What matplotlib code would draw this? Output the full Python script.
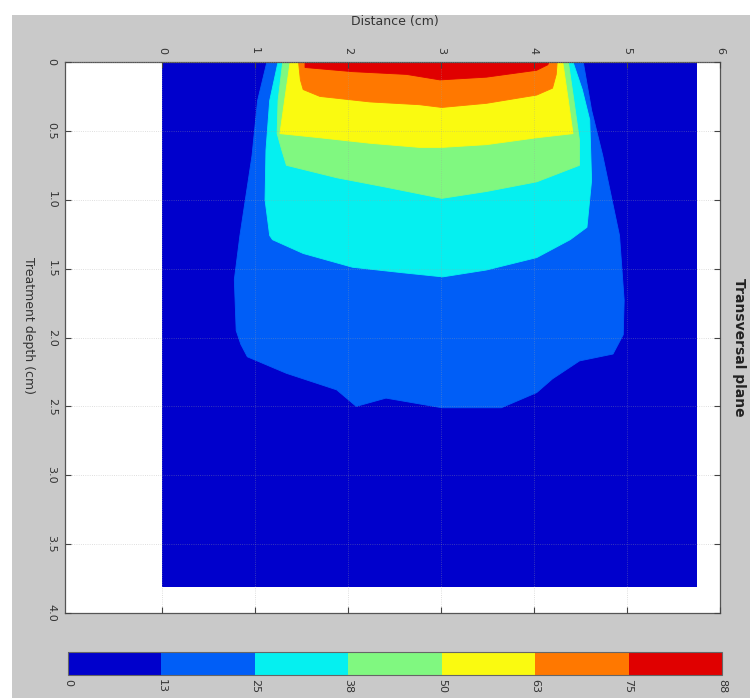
import numpy as np
import matplotlib
matplotlib.use("Agg")
import matplotlib.pyplot as plt
from matplotlib.colors import ListedColormap, BoundaryNorm
from matplotlib.cm import ScalarMappable
from matplotlib.patches import Rectangle

# dose levels (%) and their colours
levels = [0, 12.5, 25, 37.5, 50, 62.5, 75, 87.5]
level_labels = ['0', '13', '25', '38', '50', '63', '75', '88']
colors = ['#0000cc', '#005ef7', '#05f0f0', '#80f880', '#fafa10', '#ff7800', '#e00000']

# extent of the computed dose grid (cm)
grid_x = [0, 5.75]
grid_depth = [0, 3.81]

# isodose contours: distance (cm), depth (cm)
iso13_x = [1.13, 1.03, 0.97, 0.84, 0.78, 0.80, 0.85, 0.92, 1.34, 1.88, 2.09, 2.41, 3.01,
           3.65, 4.03, 4.20, 4.49, 4.85, 4.96, 4.97, 4.92, 4.74, 4.62, 4.53]
iso13_d = [0.00, 0.28, 0.68, 1.26, 1.58, 1.95, 2.05, 2.14, 2.26, 2.38, 2.50, 2.44, 2.51,
           2.51, 2.40, 2.30, 2.17, 2.12, 1.98, 1.73, 1.26, 0.68, 0.35, 0.00]
iso25_x = [1.25, 1.16, 1.12, 1.11, 1.16, 1.19, 1.52, 2.05, 2.59, 3.02, 3.49, 4.03, 4.39,
           4.57, 4.62, 4.60, 4.52, 4.42]
iso25_d = [0.00, 0.28, 0.64, 1.00, 1.26, 1.29, 1.39, 1.49, 1.53, 1.56, 1.51, 1.42, 1.29,
           1.20, 0.86, 0.42, 0.20, 0.00]
iso38_x = [1.30, 1.25, 1.24, 1.29, 1.34, 1.88, 2.42, 3.01, 3.49, 4.03, 4.49, 4.49, 4.43, 4.37]
iso38_d = [0.00, 0.28, 0.52, 0.64, 0.75, 0.84, 0.91, 0.99, 0.94, 0.87, 0.75, 0.57, 0.28, 0.00]
iso50_x = [1.38, 1.32, 1.27, 1.70, 2.24, 2.77, 3.01, 3.49, 4.03, 4.42, 4.37, 4.31]
iso50_d = [0.00, 0.28, 0.52, 0.55, 0.59, 0.62, 0.62, 0.60, 0.55, 0.52, 0.28, 0.00]
iso63_x = [1.47, 1.49, 1.52, 1.70, 2.24, 2.77, 3.01, 3.49, 4.03, 4.20, 4.24, 4.25]
iso63_d = [0.00, 0.13, 0.20, 0.25, 0.29, 0.31, 0.33, 0.30, 0.24, 0.19, 0.09, 0.00]
iso75_x = [1.54, 1.54, 2.05, 2.63, 2.99, 3.49, 4.03, 4.15, 4.16]
iso75_d = [0.00, 0.04, 0.07, 0.09, 0.13, 0.11, 0.06, 0.02, 0.00]

x_ticks = [0, 1, 2, 3, 4, 5, 6]
y_ticks = [0, 0.5, 1.0, 1.5, 2.0, 2.5, 3.0, 3.5, 4.0]
y_tick_labels = ['0', '0.5', '1.0', '1.5', '2.0', '2.5', '3.0', '3.5', '4.0']

W, H = 750, 698
fig = plt.figure(figsize=(W / 100, H / 100), dpi=100, facecolor='white')
fig.patches.append(Rectangle((12 / W, 0), 1, 1 - 15 / H, transform=fig.transFigure,
                             facecolor='#c9c9c9', edgecolor='none', zorder=-10))

ax = fig.add_axes([65 / W, 1 - 613 / H, 655 / W, 551 / H])
ax.set_facecolor('white')

ax.fill([grid_x[0], grid_x[1], grid_x[1], grid_x[0]],
        [grid_depth[0], grid_depth[0], grid_depth[1], grid_depth[1]],
        color=colors[0], lw=0)
contours = [(iso13_x, iso13_d), (iso25_x, iso25_d), (iso38_x, iso38_d),
            (iso50_x, iso50_d), (iso63_x, iso63_d), (iso75_x, iso75_d)]
for (cx, cd), col in zip(contours, colors[1:]):
    ax.fill(cx, cd, facecolor=col, edgecolor=col, lw=0.6)

ax.set_xlim(-1.04, 6)
ax.set_ylim(4.0, 0)
ax.xaxis.tick_top()
ax.set_xticks(x_ticks)
ax.set_xticklabels([str(t) for t in x_ticks], rotation=-90, fontsize=8, color='#333333',
                   ha='center', va='bottom')
ax.set_yticks(y_ticks)
ax.set_yticklabels(y_tick_labels, rotation=-90, fontsize=8, color='#333333',
                   ha='right', va='center')
ax.tick_params(direction='in', top=True, bottom=True, left=True, right=True,
               length=4, width=0.8, color='#444444', pad=6)
ax.grid(True, linestyle=':', color='#a0a0a0', lw=0.6, alpha=0.45)
ax.set_axisbelow(False)
for s in ax.spines.values():
    s.set_color('#555555')
    s.set_linewidth(0.9)

fig.text(395 / W, 1 - 22 / H, 'Distance (cm)', fontsize=9, color='#333333',
         ha='center', va='center')
fig.text(28 / W, 1 - 325 / H, 'Treatment depth (cm)', fontsize=9, color='#333333',
         rotation=-90, ha='center', va='center')
fig.text(739 / W, 1 - 347 / H, 'Transversal plane', fontsize=10, fontweight='bold',
         color='#222222', rotation=-90, ha='center', va='center')

cax = fig.add_axes([68 / W, 1 - 675 / H, 654 / W, 23 / H])
sm = ScalarMappable(norm=BoundaryNorm(levels, len(colors)), cmap=ListedColormap(colors))
cb = fig.colorbar(sm, cax=cax, orientation='horizontal')
cb.set_ticks(levels)
cb.set_ticklabels(level_labels)
cb.ax.tick_params(length=0, pad=3)
for lab in cb.ax.get_xticklabels():
    lab.set_rotation(-90)
    lab.set_fontsize(8)
    lab.set_color('#333333')
    lab.set_va('top')
cb.outline.set_edgecolor('#666666')

fig.savefig('out.png', dpi=100, facecolor=fig.get_facecolor())
